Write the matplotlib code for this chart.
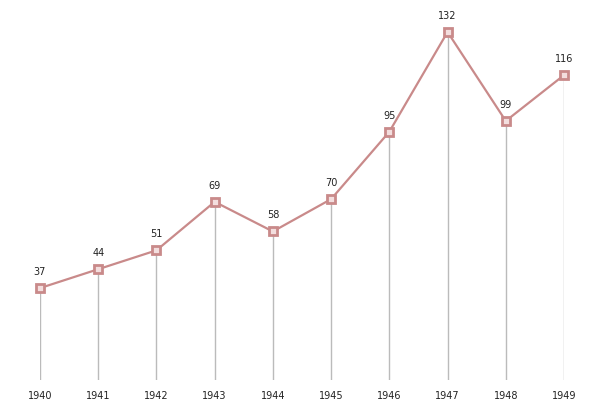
import matplotlib
matplotlib.use("Agg")
import matplotlib.pyplot as plt

years = [1940, 1941, 1942, 1943, 1944, 1945, 1946, 1947, 1948, 1949]
values = [37, 44, 51, 69, 58, 70, 95, 132, 99, 116]

fig = plt.figure(figsize=(6.05, 4.12), dpi=100)
ax = fig.add_axes([40 / 605, 32 / 412, 524 / 605, 360 / 412])
ymin, ymax = 2.9, 136.45
ax.set_xlim(1940, 1949)
ax.set_ylim(ymin, ymax)

ax.vlines(years, ymin, values, color="#bbbbbb", lw=1, zorder=1)
ax.plot(years, values, color="#c98a8a", lw=1.6, marker="s", ms=6,
        mfc="#f3dede", mec="#c98a8a", mew=2, zorder=3, clip_on=False)
for x, v in zip(years, values):
    ax.annotate(str(v), (x, v), xytext=(0, 8), textcoords="offset points",
                ha="center", va="bottom", fontsize=7, color="#222222")

for s in ax.spines.values():
    s.set_visible(False)
ax.set_yticks([])
ax.set_xticks(years)
ax.set_xticklabels([str(y) for y in years], fontsize=7, color="#222222")
ax.tick_params(axis="x", length=0, pad=8)

fig.savefig("out.png", dpi=100)
